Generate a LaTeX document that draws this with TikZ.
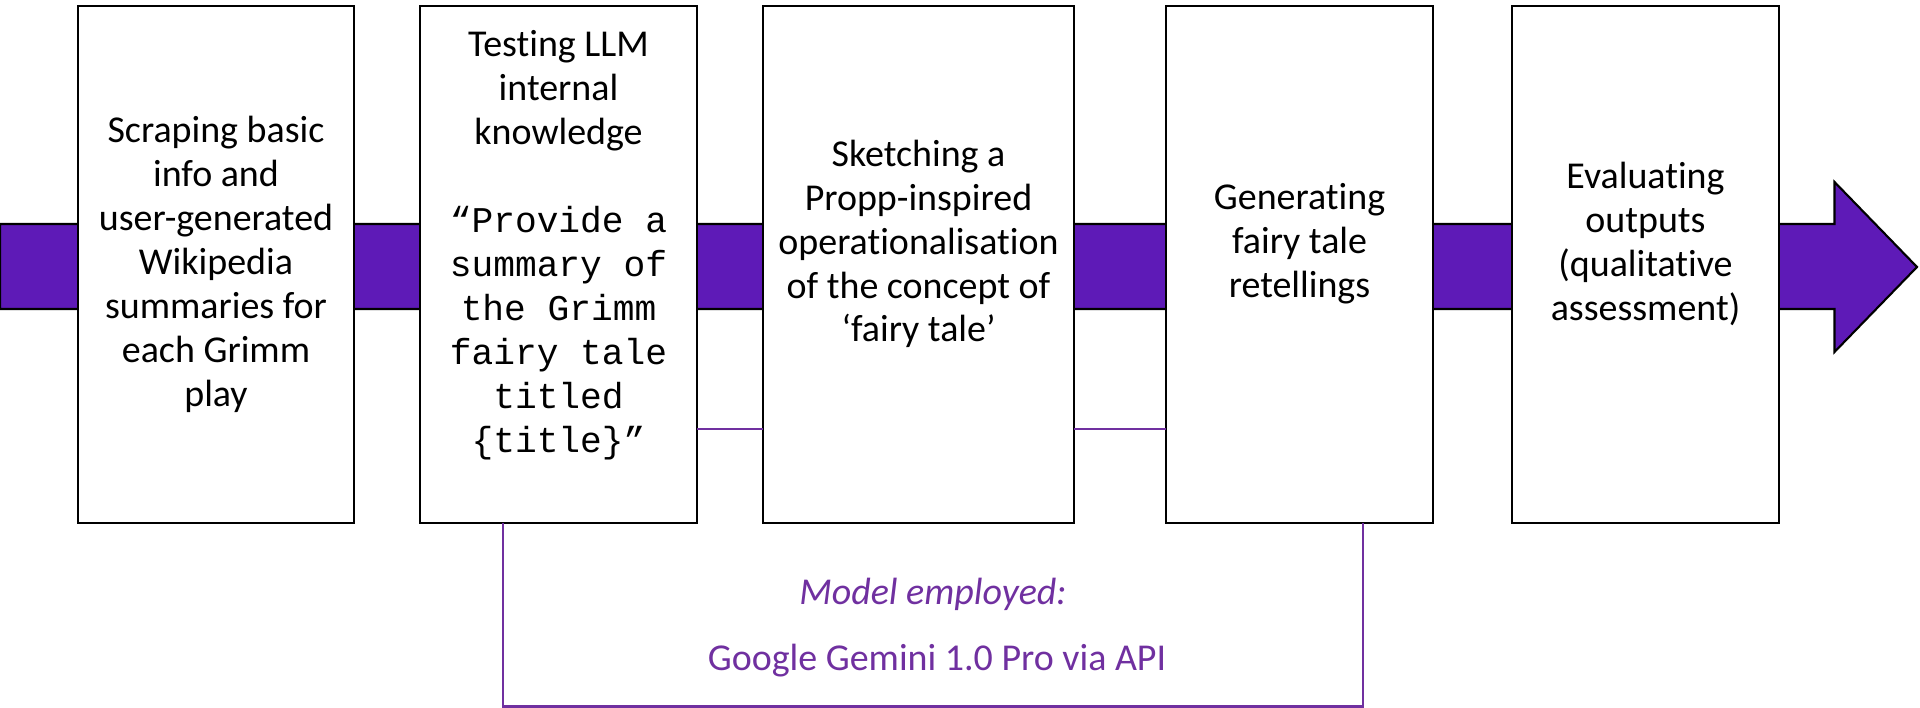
\documentclass[tikz,border=0pt]{standalone}
\usepackage{fontspec}
\setmainfont{Carlito}[Ligatures=CommonOff]
\setmonofont{Liberation Mono}
\usetikzlibrary{positioning}
\definecolor{flow_purple}{RGB}{94,26,183}
\definecolor{model_purple}{RGB}{112,48,160}
\tikzstyle{stage_box} = [rectangle, draw=black, fill=white, line width=0.6pt, minimum height=5.17cm, inner sep=0pt, outer sep=0pt]
\tikzstyle{stage_text} = [align=center, inner sep=0pt, font=\fontsize{10.8}{12.5}\selectfont]
\tikzstyle{prompt_text} = [align=center, inner sep=0pt, font=\fontsize{10.3}{12.5}\selectfont\ttfamily]
\tikzstyle{flow_arrow} = [draw=black, fill=flow_purple, line width=0.6pt]
\tikzstyle{model_line} = [draw=model_purple, line width=0.6pt]
\tikzstyle{model_label} = [font=\fontsize{10.8}{12.5}\selectfont, text=model_purple, inner sep=0pt]
\begin{document}
\begin{tikzpicture}
\useasboundingbox (0,0) rectangle (19.2,7.08);
\draw [flow_arrow] (0,3.99) -- (18.345,3.99) -- (18.345,3.56) -- (19.17,4.41) -- (18.345,5.26) -- (18.345,4.84) -- (0,4.84) -- cycle;

\node (scrape) [stage_box, minimum width=2.76cm] at (2.16,4.435) {};
\node (prompt) [stage_box, minimum width=2.77cm, right=0.66cm of scrape] {};
\node (sketch) [stage_box, minimum width=3.11cm, right=0.66cm of prompt] {};
\node (generate) [stage_box, minimum width=2.67cm, right=0.92cm of sketch] {};
\node (evaluate) [stage_box, minimum width=2.67cm, right=0.79cm of generate] {};

\node (scrape_txt) [stage_text] at (scrape.center) {Scraping basic\\info and\\user-generated\\Wikipedia\\summaries for\\each Grimm\\play};
\node (prompt_head) [stage_text] at ([yshift=1.735cm]prompt.center) {Testing LLM\\internal\\knowledge};
\node (prompt_body) [prompt_text] at ([yshift=-0.685cm]prompt.center) {“Provide a\\summary of\\the Grimm\\fairy tale\\titled\\\{title\}”};
\node (sketch_txt) [stage_text] at ([yshift=0.205cm]sketch.center) {Sketching a\\Propp-inspired\\operationalisation\\of the concept of\\‘fairy tale’};
\node (generate_txt) [stage_text] at ([yshift=0.205cm]generate.center) {Generating\\fairy tale\\retellings};
\node (evaluate_txt) [stage_text] at ([yshift=0.205cm]evaluate.center) {Evaluating\\outputs\\(qualitative\\assessment)};

% Modell-Klammer unter den LLM-Schritten
\draw [model_line] ([yshift=-1.645cm]prompt.east) -- ([yshift=-1.645cm]sketch.west);
\draw [model_line] ([yshift=-1.645cm]sketch.east) -- ([yshift=-1.645cm]generate.west);
\draw [model_line] ([xshift=-0.555cm]prompt.south) -- ++(0,-1.835) -| ([xshift=0.635cm]generate.south);
\node (model_head) [model_label, font=\fontsize{10.8}{12.5}\selectfont\itshape] at (9.33,1.14) {Model employed:};
\node (model_name) [model_label] at (9.37,0.47) {Google Gemini 1.0 Pro via API};
\end{tikzpicture}
\end{document}
